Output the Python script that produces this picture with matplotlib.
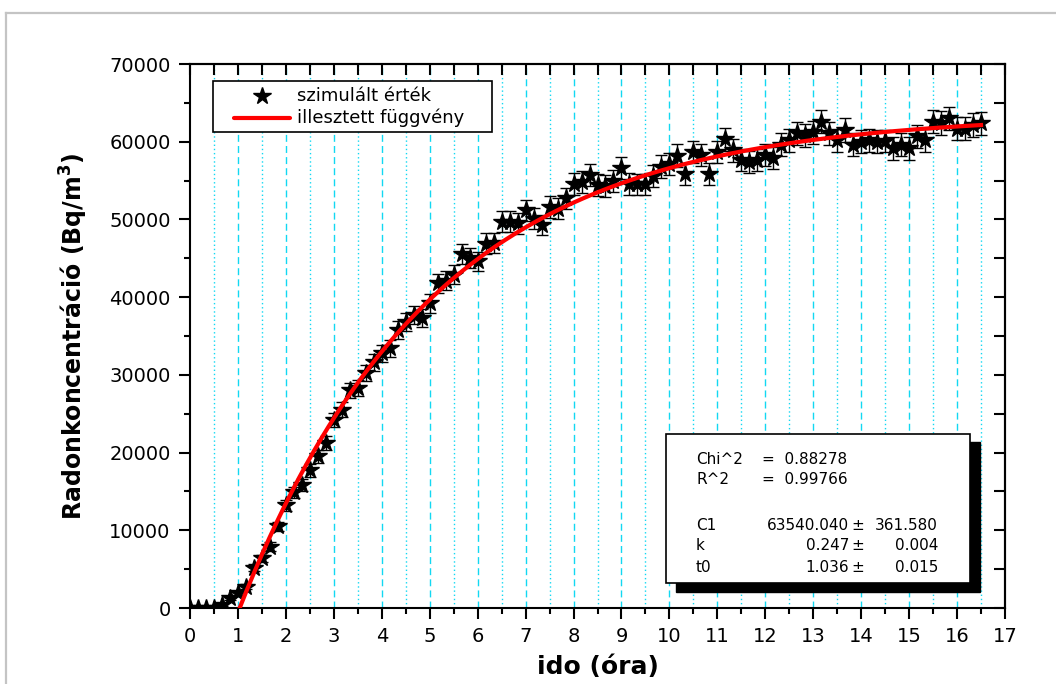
import numpy as np
import matplotlib
matplotlib.use('Agg')
from matplotlib import pyplot as plt
from matplotlib.lines import Line2D
from matplotlib.patches import Rectangle

# measurement every 10 minutes
minutes = np.arange(0, 1000, 10)
radon = [0, 0, 0, 0, 350, 1250, 1900, 2750, 5200, 6400,
         7900, 10500, 13200, 14900, 15800, 17700, 19500, 21200, 24200, 25500,
         28000, 28300, 30200, 31600, 32800, 33400, 35800, 36800, 37700, 37300,
         39200, 41800, 42100, 42900, 45600, 45000, 44600, 46900, 47000, 49700,
         49700, 49500, 51200, 50100, 49300, 51600, 51400, 52700, 54600, 54800,
         55700, 54400, 54300, 54900, 56600, 54600, 54500, 54500, 55600, 56800,
         57100, 58200, 55800, 58700, 58300, 55900, 58700, 60300, 58900, 57650,
         57400, 57650, 58300, 57900, 59600, 60200, 61100, 60800, 61200, 62600,
         61100, 60200, 61500, 59600, 60000, 60200, 60000, 60100, 59150, 59600,
         59150, 60700, 60200, 62600, 62400, 63000, 61700, 61700, 62150, 62350]
radon_err = [0, 0, 0, 0, 110, 210, 260, 310, 430, 480,
             530, 610, 690, 730, 750, 800, 840, 870, 930, 960,
             1000, 1010, 1040, 1070, 1090, 1100, 1140, 1150, 1160, 1160,
             1190, 1230, 1230, 1240, 1280, 1270, 1270, 1300, 1300, 1340,
             1340, 1330, 1360, 1340, 1330, 1360, 1360, 1380, 1400, 1400,
             1420, 1400, 1400, 1410, 1430, 1400, 1400, 1400, 1410, 1430,
             1430, 1450, 1420, 1450, 1450, 1420, 1450, 1470, 1460, 1440,
             1440, 1440, 1450, 1440, 1460, 1470, 1480, 1480, 1480, 1500,
             1480, 1470, 1490, 1460, 1470, 1470, 1470, 1470, 1460, 1460,
             1460, 1480, 1470, 1500, 1500, 1510, 1490, 1490, 1500, 1500]

# fit parameters shown in the box
C1, k, t0 = 63540.040, 0.247, 1.036
stat_lines = [('Chi^2', '=  0.88278'), ('R^2', '=  0.99766')]
param_lines = [('C1', '63540.040', '361.580'), ('k', '0.247', '0.004'), ('t0', '1.036', '0.015')]

t = minutes / 60.0
t_fit = np.linspace(t0, t[-1], 300)
y_fit = C1 * (1 - np.exp(-k * (t_fit - t0)))

W, H = 1056, 684
fx = lambda px: px / W
fy = lambda py: 1 - py / H

fig = plt.figure(figsize=(W / 100, H / 100), dpi=100)
ax = fig.add_axes([fx(190), fy(608), (1005 - 190) / W, (608 - 64) / H])

# cyan vertical grid: dashed on hours, dotted on half hours
grid_c = '#12d8f2'
for h in np.arange(0.5, 17, 0.5):
    if h % 1 == 0:
        ax.axvline(h, color=grid_c, lw=1, ls=(0, (5, 3)), zorder=0)
    else:
        ax.axvline(h, color=grid_c, lw=1, ls=(0, (1, 2)), zorder=0)

ax.errorbar(t, radon, yerr=radon_err, fmt='*', color='black', ms=13,
            capsize=4, elinewidth=1, capthick=1, zorder=3)
ax.plot(t_fit, y_fit, color='red', lw=3, zorder=4)

ax.set_xlim(0, 17)
ax.set_ylim(0, 70000)
ax.set_xticks(range(0, 18))
ax.set_xticks(np.arange(0.5, 17, 1), minor=True)
ax.set_yticks(range(0, 70001, 10000))
ax.set_yticks(range(5000, 70000, 10000), minor=True)
ax.tick_params(which='major', direction='out', length=8, width=1.5, labelsize=14, pad=6)
ax.tick_params(which='minor', direction='out', length=4, width=1.5)
for s in ax.spines.values():
    s.set_linewidth(1.5)

top = ax.secondary_xaxis('top')
top.set_xticks(np.arange(0, 17.01, 0.5))
top.tick_params(direction='in', length=8, width=1.5, labeltop=False)
top.spines['top'].set_linewidth(1.5)
right = ax.secondary_yaxis('right')
right.set_yticks(range(0, 70001, 5000))
right.tick_params(direction='in', length=8, width=1.5, labelright=False)
right.spines['right'].set_linewidth(1.5)

ax.set_xlabel('ido (óra)', fontsize=18, fontweight='bold', labelpad=6)
ax.set_ylabel(r'Radonkoncentráció (Bq/m$^{\mathbf{3}}$)', fontsize=17,
              fontweight='bold', labelpad=14)

# legend box
fig.add_artist(Rectangle((fx(213), fy(132)), (492 - 213) / W, (132 - 81) / H,
                         transform=fig.transFigure, facecolor='white',
                         edgecolor='black', lw=1.2, zorder=5))
fig.add_artist(Line2D([fx(262)], [fy(96)], marker='*', ms=13, color='black',
                      transform=fig.transFigure, zorder=6))
fig.add_artist(Line2D([fx(234), fx(290)], [fy(118)] * 2, color='red', lw=3,
                      solid_capstyle='round', transform=fig.transFigure, zorder=6))
fig.text(fx(297), fy(96), 'szimulált érték', fontsize=13, va='center', zorder=6)
fig.text(fx(297), fy(118), 'illesztett függvény', fontsize=13, va='center', zorder=6)

# fit result box with shadow
fig.add_artist(Rectangle((fx(676), fy(592)), (980 - 676) / W, (592 - 442) / H,
                         transform=fig.transFigure, facecolor='black',
                         edgecolor='black', lw=1, zorder=5))
fig.add_artist(Rectangle((fx(666), fy(583)), (970 - 666) / W, (583 - 434) / H,
                         transform=fig.transFigure, facecolor='white',
                         edgecolor='black', lw=1.2, zorder=6))
fs = 11
for (lab, val), py in zip(stat_lines, [459, 480]):
    fig.text(fx(696), fy(py), lab, fontsize=fs, va='center', zorder=7)
    fig.text(fx(762), fy(py), val, fontsize=fs, va='center', zorder=7)
for (lab, val, err), py in zip(param_lines, [525, 546, 567]):
    fig.text(fx(696), fy(py), lab, fontsize=fs, va='center', zorder=7)
    fig.text(fx(849), fy(py), val, fontsize=fs, va='center', ha='right', zorder=7)
    fig.text(fx(858), fy(py), '±', fontsize=fs, va='center', ha='center', zorder=7)
    fig.text(fx(938), fy(py), err, fontsize=fs, va='center', ha='right', zorder=7)

# page frame around the chart
fig.add_artist(Line2D([fx(6), fx(6)], [fy(13), 0], color='#c4c4c4', lw=1.6,
                      transform=fig.transFigure))
fig.add_artist(Line2D([fx(6), 1], [fy(13), fy(13)], color='#c4c4c4', lw=1.6,
                      transform=fig.transFigure))

fig.savefig('out.png', dpi=100)
